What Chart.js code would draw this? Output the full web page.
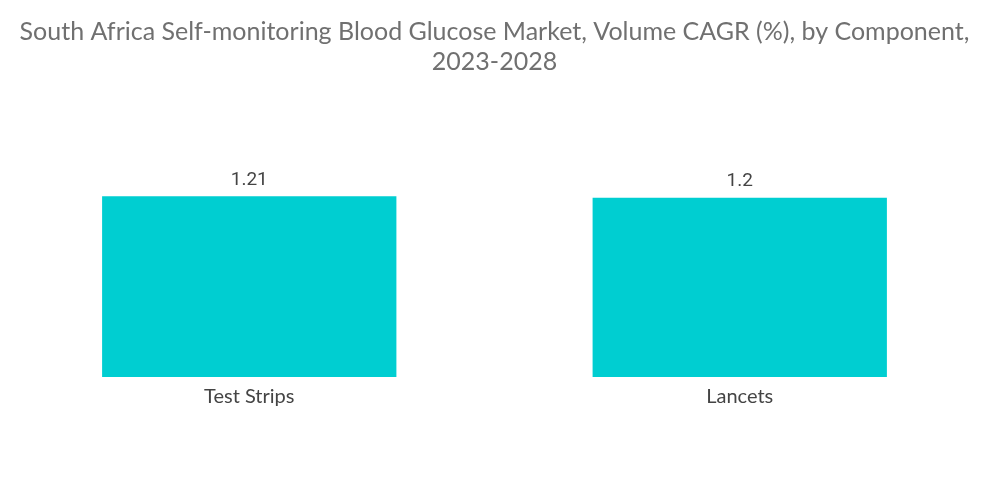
<!DOCTYPE html>
<html>
<head>
<meta charset="utf-8">
<script src="https://cdn.jsdelivr.net/npm/chart.js@4"></script>
<style>
  html, body { margin: 0; padding: 0; background: #fff; }
  #wrap { width: 1000px; height: 504px; }
</style>
</head>
<body>
<div id="wrap"><canvas id="myChart"></canvas></div>
<script>
const categories = ["Test Strips", "Lancets"];
const cagrValues = [1.21, 1.2];
const valueLabels = ["1.21", "1.2"];

// draws the value above each bar
const barValues = {
  id: "barValues",
  afterDatasetsDraw(chart) {
    const ctx = chart.ctx;
    const meta = chart.getDatasetMeta(0);
    ctx.save();
    ctx.font = "19px Roboto";
    ctx.fillStyle = "#444";
    ctx.textAlign = "center";
    ctx.textBaseline = "bottom";
    meta.data.forEach((bar, i) => {
      ctx.fillText(valueLabels[i], bar.x, bar.y - 7);
    });
    ctx.restore();
  },
};

const ctx = document.getElementById("myChart");

new Chart(ctx, {
  type: "bar",
  data: {
    labels: categories,
    datasets: [
      {
        label: "Volume CAGR (%)",
        data: cagrValues,
        backgroundColor: "#00CED1",
        barPercentage: 0.6,
        categoryPercentage: 1,
      },
    ],
  },
  options: {
    responsive: true,
    maintainAspectRatio: false,
    animation: false,
    layout: { padding: { left: 4, right: 15, top: 0, bottom: 95 } },
    plugins: {
      legend: { display: false },
      tooltip: { enabled: false },
      title: {
        display: true,
        text: ["South Africa Self-monitoring Blood Glucose Market, Volume CAGR (%), by Component,", "2023-2028"],
        color: "#707070",
        font: { family: "Lato", size: 25, weight: "normal", lineHeight: 1.2 },
        padding: { top: 17, bottom: 61 },
      },
    },
    scales: {
      x: {
        grid: { display: false },
        border: { display: false },
        ticks: { color: "#444", font: { family: "Lato", size: 20 }, padding: 0 },
      },
      y: {
        display: false,
        beginAtZero: true,
        min: 0,
        max: 1.6,
      },
    },
  },
  plugins: [barValues],
});
</script>
</body>
</html>
